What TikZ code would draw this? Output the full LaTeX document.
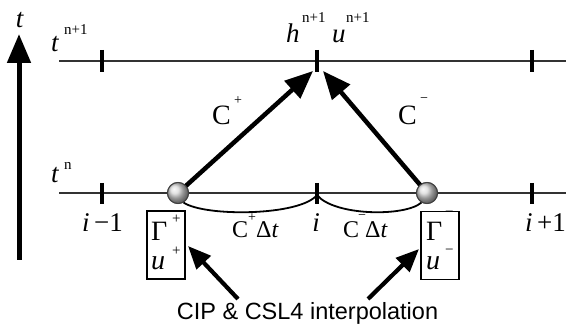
\documentclass[tikz,border=0pt]{standalone}
\usepackage{fontspec}
\setmainfont{Liberation Serif}
\setsansfont{Liberation Sans}
\usetikzlibrary{arrows.meta}
\begin{document}
\begin{tikzpicture}[x=1pt,y=-1pt,
  lbl/.style={inner sep=0,anchor=base west,font=\fontsize{27}{27}\selectfont},
  lblc/.style={lbl,font=\fontsize{24}{24}\selectfont,text height=0.68em,text depth=0pt},
  big/.style={lbl,font=\fontsize{28}{28}\selectfont,text height=0.66em,text depth=0pt},
  sm/.style={inner sep=0,anchor=base west,font=\fontsize{15}{15}\selectfont,text height=0.6em,text depth=0pt},
  tiny/.style={inner sep=0,anchor=base west,font=\fontsize{14}{14}\selectfont,text height=0.6em,text depth=0pt},
  tl/.style={line width=2pt,draw=black!80},
  tk/.style={line width=4pt},
  ball/.style={circle,inner sep=0,minimum size=21pt,shading=ball,ball color=gray!30,draw=black!75,line width=1pt},
  bigarr/.style={line width=4.5pt,-{Triangle[length=28pt,width=23pt]}},
  midarr/.style={line width=4.2pt,-{Triangle[length=23pt,width=19pt]}},
  arcl/.style={line width=1.8pt},
  boxst/.style={draw,line width=1.5pt,minimum width=38pt,minimum height=68pt,inner sep=0}
]
\useasboundingbox (0,0) rectangle (566,326);
% time axis
\coordinate (ax0) at (19,260);
\coordinate (ax1) at (19,34);
\draw[line width=5pt,-{Triangle[length=29pt,width=23pt]}] (ax0) -- (ax1);
\node[lbl,anchor=base] (tax) at (20,28) {\textit{t}};
% time lines
\coordinate (L1a) at (59,61); \coordinate (L1b) at (566,61);
\coordinate (L0a) at (59,193); \coordinate (L0b) at (566,193);
\draw[tl] (L1a) -- (L1b);
\draw[tl] (L0a) -- (L0b);
% ticks
\foreach \x/\n in {102/a,317/b,532/c}{
  \coordinate (T\n1) at (\x,50); \coordinate (T\n2) at (\x,72);
  \draw[tk] (T\n1) -- (T\n2);
  \coordinate (B\n1) at (\x,183); \coordinate (B\n2) at (\x,204);
  \draw[tk] (B\n1) -- (B\n2);
}
% labels of time levels
\node[lbl] (t1) at (51,52) {\textit{t}};
\node[sm] (t1s) at (64,35) {n+1};
\node[lbl] (t0) at (51,183) {\textit{t}};
\node[sm] (t0s) at (64,170) {n};
\node[lbl] (h) at (286,43) {\textit{h}};
\node[sm] (hs) at (302,23) {n+1};
\node[lbl] (u) at (332,43) {\textit{u}};
\node[sm] (us) at (346,23) {n+1};
% departure points
\node[ball] (p1) at (178,193) {};
\node[ball] (p2) at (427,193) {};
\coordinate (tipL) at (313,71);
\coordinate (tipR) at (323,71);
\draw[bigarr] (p1.center) -- (tipL);
\draw[bigarr] (p2.center) -- (tipR);
\node[ball] at (p1) {};
\node[ball] at (p2) {};
\node[big] (cp) at (212,125) {C};
\node[tiny] (cps) at (234,105) {+};
\node[big] (cm) at (398,125) {C};
\node[tiny] (cms) at (420,103) {−};
% arcs
\coordinate (bi) at (317,195);
\draw[arcl] (p1.-60) .. controls (205,217) and (300,216) .. (bi);
\draw[arcl] (bi) .. controls (334,216) and (405,217) .. (p2.-120);
% grid labels
\node[lbl] (im1) at (82,232) {\textit{i}\,−1};
\node[lbl,anchor=base] (ii) at (316,232) {\textit{i}};
\node[lbl] (ip1) at (525,232) {\textit{i}\,+1};
\node[lblc] (cpd) at (232,238) {C};
\node[tiny] (cpds) at (248,222) {+};
\node[lblc] (cpdt) at (256,238) {Δ\textit{t}};
\node[lblc] (cmd) at (343,238) {C};
\node[tiny] (cmds) at (358,220) {−};
\node[lblc] (cmdt) at (365,238) {Δ\textit{t}};
% boxes
\node[boxst] (bx1) at (166,245) {};
\node[boxst] (bx2) at (440,245.5) {};
\node[big] (g1) at (151,241) {Γ};
\node[sm] (g1s) at (172,224) {+};
\node[big,text height=0.46em] (u1) at (151,270) {\textit{u}};
\node[sm] (u1s) at (172,256) {+};
\node[big] (g2) at (426,241) {Γ};
\node[sm] (g2s) at (445,217) {−};
\node[big,text height=0.46em] (u2) at (426,270) {\textit{u}};
\node[sm] (u2s) at (445,255) {−};
% interpolation
\node[inner sep=0,anchor=base,font=\sffamily\fontsize{23.5}{24}\selectfont] (cip) at (307.5,320) {CIP \& CSL4 interpolation};
\coordinate (s1) at (238,299);
\coordinate (e1) at (188,246);
\coordinate (s2) at (368,299);
\coordinate (e2) at (419,249);
\draw[midarr] (s1) -- (e1);
\draw[midarr] (s2) -- (e2);
\end{tikzpicture}
\end{document}
